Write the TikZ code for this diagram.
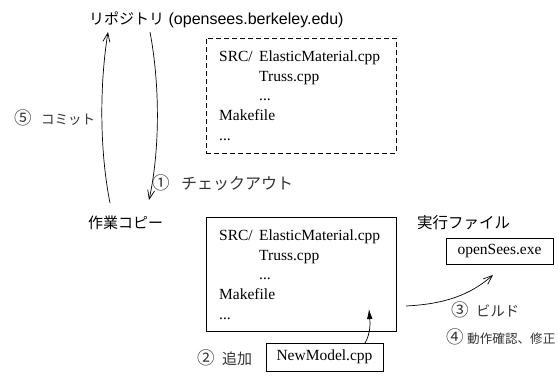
\documentclass[tikz,border=0pt]{standalone}
\usepackage{fontspec}
\setmainfont{Liberation Serif}
\newfontfamily\jp{Noto Sans CJK JP}
\newfontfamily\arialf{Liberation Sans}
\usetikzlibrary{arrows.meta}
\newcommand{\mystep}[4]{\makebox[#2][l]{\fontsize{17.5}{18}\selectfont #1}{\fontsize{#3}{#3}\selectfont #4}}
\begin{document}
\begin{tikzpicture}[x=1pt,y=-1pt,
  heading/.style={inner sep=0pt, anchor=west, font=\jp\fontsize{15}{18}\selectfont},
  filebox/.style={draw, line width=0.7pt, minimum width=190pt, minimum height=115pt, inner sep=0pt},
  listing/.style={inner sep=0pt, anchor=base west, font=\fontsize{15.5}{19.7}\selectfont},
  smallbox/.style={draw, line width=0.7pt, inner sep=0pt, font=\fontsize{15.5}{18}\selectfont},
  steplabel/.style={inner sep=0pt, anchor=west, text=black!80, font=\jp\fontsize{14}{16}\selectfont},
  flow/.style={line width=0.7pt, -{Straight Barb[length=9pt,width=7pt]}},
  addflow/.style={line width=0.7pt, -{Latex[length=10pt,width=5.5pt]}},
]
\useasboundingbox (0,0) rectangle (558,376);

% headings
\node[heading] (repotitle) at (89,20) {リポジトリ{\arialf\fontsize{16}{18}\selectfont\ (opensees.berkeley.edu)}};
\node[heading] (worktitle) at (88,223) {作業コピー};
\node[heading, font=\jp\fontsize{15.5}{18}\selectfont] (exetitle) at (417,223) {実行ファイル};

% repository box
\node[filebox, dash pattern=on 5pt off 3pt] (repobox) at (301,95.5) {};
\node[listing] (repolist) at (219,61.5) {\begin{tabular}[t]{@{}p{40pt}@{}l@{}}
SRC/ & ElasticMaterial.cpp\\
 & Truss.cpp\\
 & ...\\
\multicolumn{2}{@{}l@{}}{Makefile}\\
\multicolumn{2}{@{}l@{}}{...}
\end{tabular}};

% working copy box
\node[filebox, minimum height=114pt] (workbox) at (301,274) {};
\node[listing] (worklist) at (219,240.5) {\begin{tabular}[t]{@{}p{40pt}@{}l@{}}
SRC/ & ElasticMaterial.cpp\\
 & Truss.cpp\\
 & ...\\
\multicolumn{2}{@{}l@{}}{Makefile}\\
\multicolumn{2}{@{}l@{}}{...}
\end{tabular}};

% executable and new file
\node[smallbox, minimum width=107pt, minimum height=26pt] (exe) at (499.5,251) {openSees.exe};
\node[smallbox, minimum width=117pt, minimum height=28pt] (newmodel) at (324.5,357) {NewModel.cpp};

% connector end points
\coordinate (commitstart) at (110,203);
\coordinate (committip) at (108,32);
\coordinate (checkoutstart) at (150,32);
\coordinate (checkouttip) at (149,200);
\coordinate (buildstart) at (406,306);
\coordinate (buildtip) at (493,275);
\coordinate (addstart) at (365,343);
\coordinate (addtip) at (369,309);

% connectors
\draw[flow] (commitstart) .. controls (99.5,150) and (99.5,85) .. (committip);
\draw[flow] (checkoutstart) .. controls (160,85) and (160,150) .. (checkouttip);
\draw[flow] (buildstart) .. controls (445,304) and (470,295) .. (buildtip);
\draw[addflow] (addstart) .. controls (371,333) and (370,322) .. (addtip);

% step labels
\node[steplabel] (lcommit) at (14,118) {\mystep{⑤}{27pt}{13.5}{コミット}};
\node[steplabel] (lcheckout) at (152,183) {\mystep{①}{29pt}{16}{チェックアウト}};
\node[steplabel] (ladd) at (197,358) {\mystep{②}{25pt}{15}{追加}};
\node[steplabel] (lbuild) at (451,310) {\mystep{③}{25pt}{14.3}{ビルド}};
\node[steplabel] (lcheck) at (446,337) {\mystep{④}{21pt}{12.6}{動作確認、修正}};
\end{tikzpicture}
\end{document}
